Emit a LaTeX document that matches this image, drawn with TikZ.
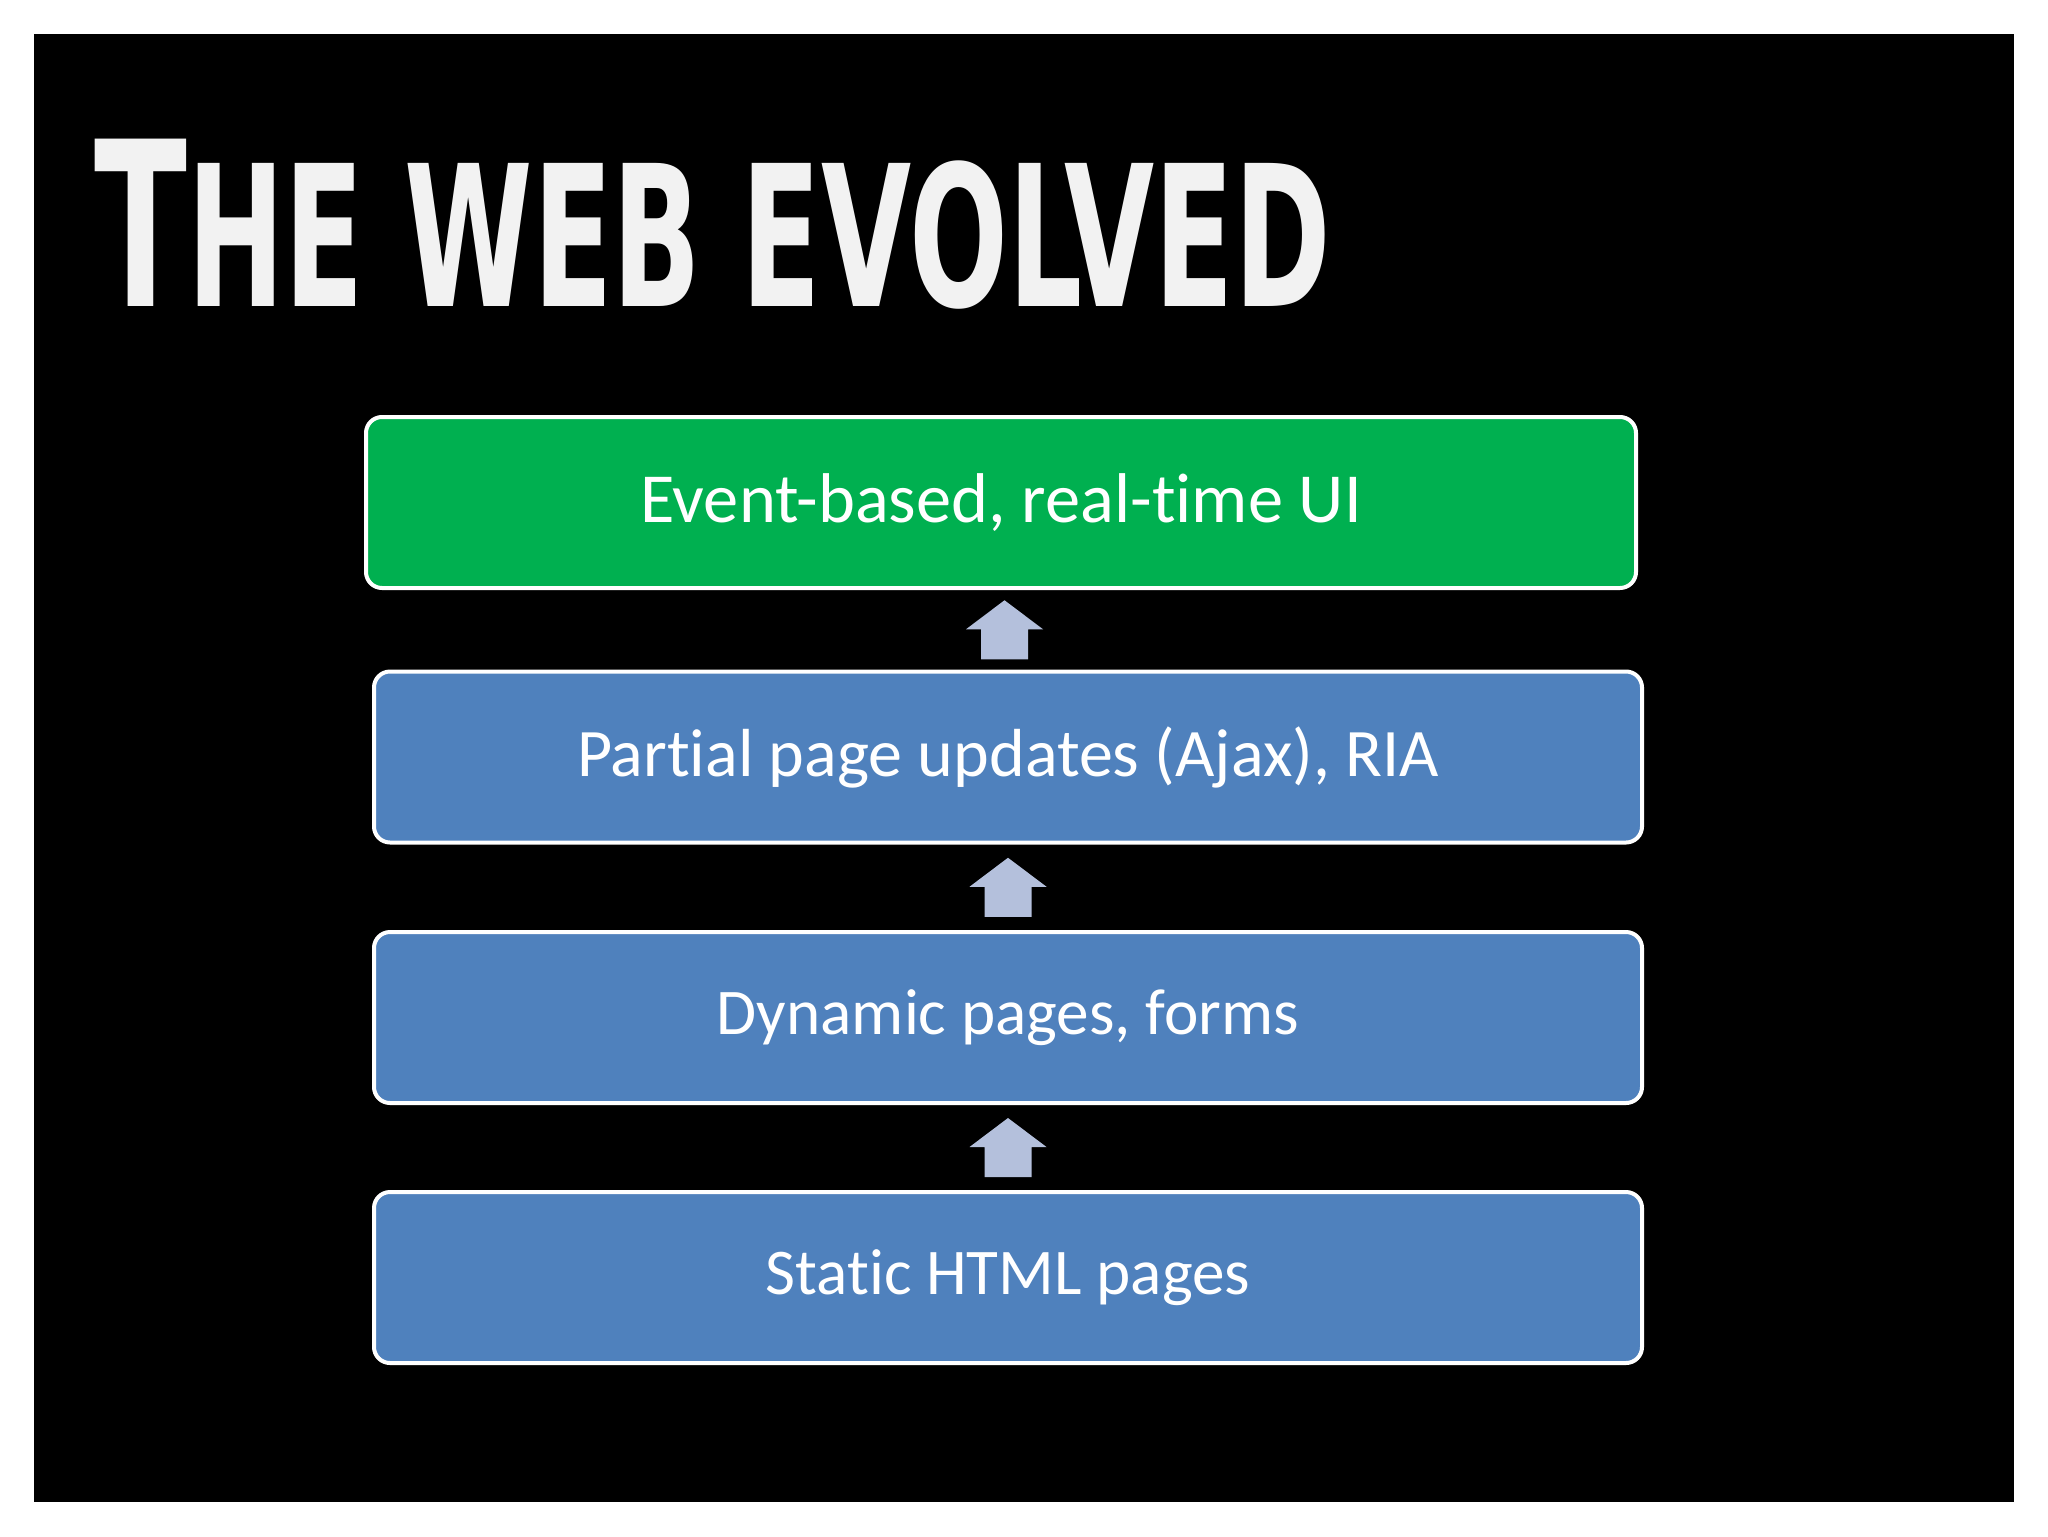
\documentclass[tikz,border=0pt]{standalone}
\usepackage{fontspec}
\setmainfont{Carlito}[Ligatures={NoCommon,NoRequired,NoContextual}]
\newfontfamily\titlefont{DejaVu Sans Condensed}
\usetikzlibrary{calc}
\definecolor{boxgreen}{HTML}{00B050}
\definecolor{boxblue}{HTML}{4F81BD}
\definecolor{arrowfill}{HTML}{B4C0DC}
\definecolor{titlegray}{HTML}{F2F2F2}
\tikzset{
  stage/.style={draw=white, line width=2pt, rounded corners=8pt, text=white,
    font=\fontsize{34pt}{41pt}\selectfont, minimum height=85.5pt, inner sep=0pt},
  greenstage/.style={stage, fill=boxgreen, minimum width=635pt},
  bluestage/.style={stage, fill=boxblue, minimum width=634pt},
  uparrow/.pic={\fill[arrowfill] (0,-29.5) -- (38.5,-0.5) -- (23.5,-0.5) -- (23.5,29.5)
     -- (-23.5,29.5) -- (-23.5,-0.5) -- (-38.5,-0.5) -- cycle;}
}
\begin{document}
\begin{tikzpicture}[x=0.5pt,y=-0.5pt]
\useasboundingbox (0,0) rectangle (2048,1536);
\fill[white] (0,0) rectangle (2048,1536);
\fill[black] (34,34) rectangle (2014,1502);
\node[anchor=base west, inner sep=0pt, text=titlegray] (title) at (94,306)
  {\resizebox{618pt}{83.7pt}{\titlefont\bfseries{\fontsize{100pt}{100pt}\selectfont T}{\fontsize{85.5pt}{100pt}\selectfont HE WEB EVOLVED}}};
\node[greenstage, font=\fontsize{35.2pt}{42pt}\selectfont] (g) at (1001,502.5) {Event-based, real-time UI};
\node[bluestage] (b1) at (1008,757) {Partial page updates (Ajax), RIA};
\node[bluestage, font=\fontsize{32.6pt}{40pt}\selectfont] (b2) at (1008,1017.5) {Dynamic pages, forms};
\node[bluestage, font=\fontsize{32.6pt}{40pt}\selectfont] (b3) at (1008,1277.5) {Static HTML pages};
\path (b1.north) -- (g.south) coordinate[midway] (m1);
\path (b2.north) -- (b1.south) coordinate[midway] (m2);
\path (b3.north) -- (b2.south) coordinate[midway] (m3);
\pic at (m1) {uparrow};
\pic at (m2) {uparrow};
\pic at (m3) {uparrow};
\end{tikzpicture}
\end{document}
